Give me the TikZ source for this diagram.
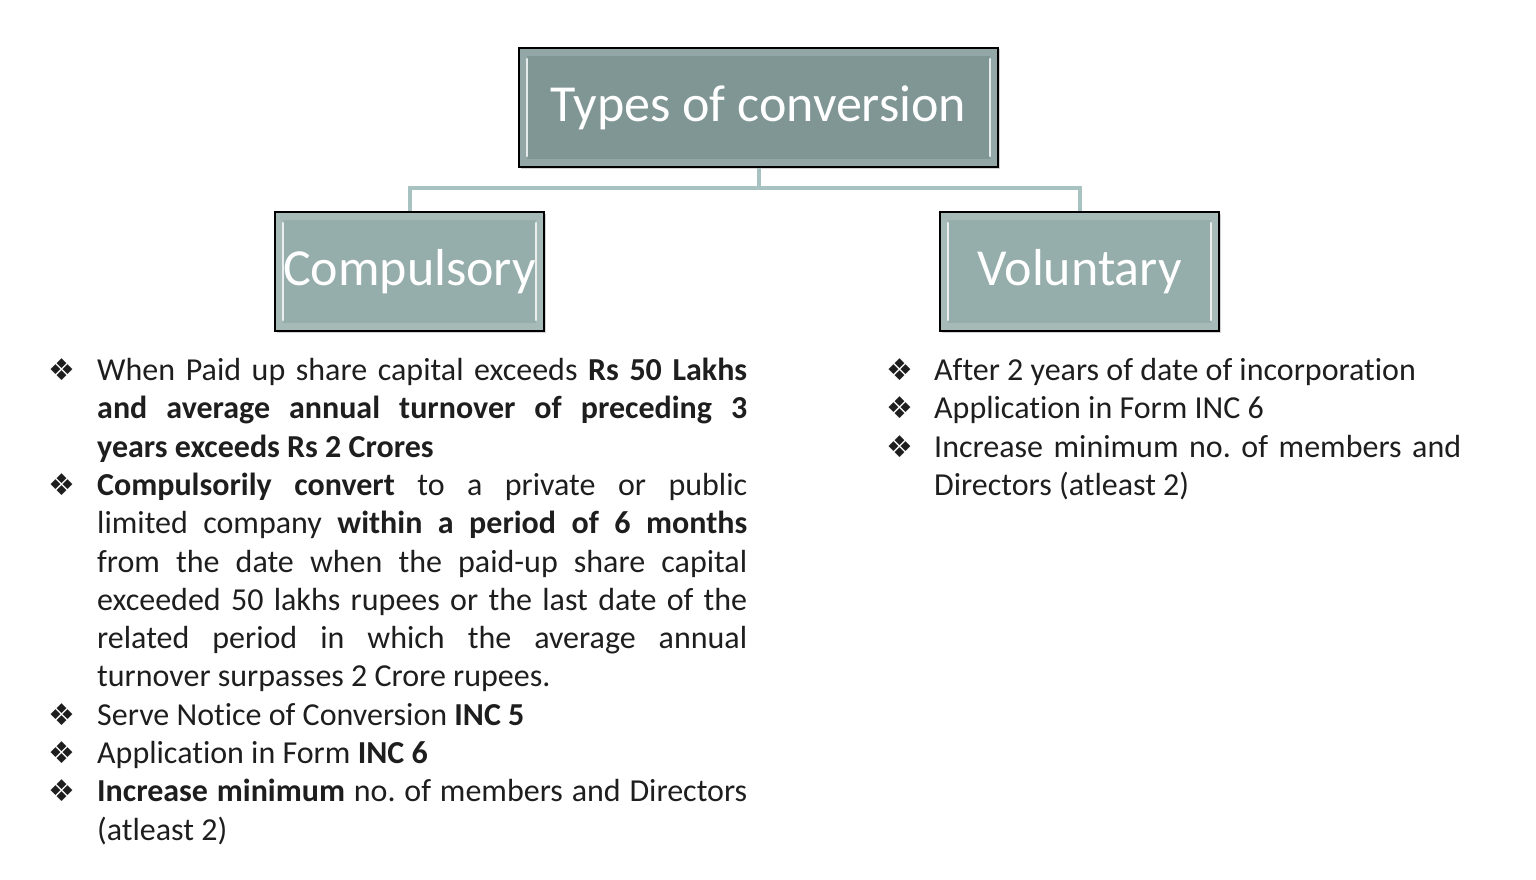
\documentclass[tikz,border=0pt]{standalone}
\usepackage{fontspec}
\setmainfont{Carlito}[Ligatures=NoCommon]
\newfontfamily\symfont{DejaVu Sans}
\usetikzlibrary{positioning,shadows}
\definecolor{headfill}{HTML}{7F9695}
\definecolor{typefill}{HTML}{95ADAB}
\definecolor{linkteal}{HTML}{A8C2C2}
\definecolor{bodytext}{HTML}{1E1E1E}
\tikzset{
  % bevelled boxes of the chart
  typebox/.style={draw=black, line width=1.2pt, text=white, inner sep=0pt,
    minimum height=119pt, font=\fontsize{52}{56}\selectfont,
    drop shadow={opacity=.35, shadow xshift=1.5pt, shadow yshift=-1.5pt},
    path picture={
      \fill[white!16!#1, even odd rule]
        (path picture bounding box.north west) rectangle
        (path picture bounding box.south east)
        ([xshift=8pt,yshift=-8pt]path picture bounding box.north west) rectangle
        ([xshift=-8pt,yshift=8pt]path picture bounding box.south east);
      \draw[white!80!#1, line width=2.5pt, line cap=round]
        ([xshift=8pt,yshift=-11pt]path picture bounding box.north west) --
        ([xshift=8pt,yshift=11pt]path picture bounding box.south west);
      \draw[white!80!#1, line width=2.5pt, line cap=round]
        ([xshift=-8pt,yshift=-11pt]path picture bounding box.north east) --
        ([xshift=-8pt,yshift=11pt]path picture bounding box.south east);
    }, fill=#1},
  link/.style={linkteal, line width=4pt},
  bulletlist/.style={anchor=north west, inner sep=0pt, align=justify,
    text=bodytext, font=\fontsize{32}{38.3}\selectfont\frenchspacing},
}
\newcommand{\diamitem}[1][49pt]{\par\tolerance=10000\hyphenpenalty=10000
  \noindent\hangindent=#1\hangafter=1
  \makebox[#1][l]{\rule{0pt}{22pt}{\symfont\fontsize{30}{30}\selectfont ❖}}\ignorespaces}

\begin{document}
\begin{tikzpicture}[x=1pt, y=-1pt]
  \useasboundingbox (0,0) rectangle (1536,880);%
  % chart
  \node[typebox=headfill, minimum width=479pt] (types) at (758.5,107.5) {Types of conversion};%
  \node[typebox=typefill, minimum width=269pt] (comp) at (409.5,271.5) {Compulsory};%
  \node[typebox=typefill, minimum width=279pt] (vol) at (1079.5,271.5) {Voluntary};%
  \draw[link] (types.south) -- ++(0,20) -| (comp.north);%
  \draw[link] (types.south) -- ++(0,20) -| (vol.north);%
  % details
  \node[bulletlist, text width=699pt] (complist) at (48,342) {%
    \diamitem When Paid up share capital exceeds \textbf{Rs 50 Lakhs}\linebreak
    \textbf{and average annual turnover of preceding 3}\linebreak
    \textbf{years exceeds Rs 2 Crores}
    \diamitem \textbf{Compulsorily convert} to a private or public\linebreak
    limited company \textbf{within a period of 6 months}\linebreak
    from the date when the paid-up share capital\linebreak
    exceeded 50 lakhs rupees or the last date of the\linebreak
    related period in which the average annual\linebreak
    turnover surpasses 2 Crore rupees.
    \diamitem Serve Notice of Conversion \textbf{INC 5}
    \diamitem Application in Form \textbf{INC 6}
    \diamitem \textbf{Increase minimum} no. of members and Directors\linebreak
    (atleast 2)\par};%
  \node[bulletlist, text width=575pt] (vollist) at (886,342) {%
    \diamitem[48pt] After 2 years of date of incorporation
    \diamitem[48pt] Application in Form INC 6
    \diamitem[48pt] Increase minimum no. of members and\linebreak
    Directors (atleast 2)\par};%
\end{tikzpicture}
\end{document}
